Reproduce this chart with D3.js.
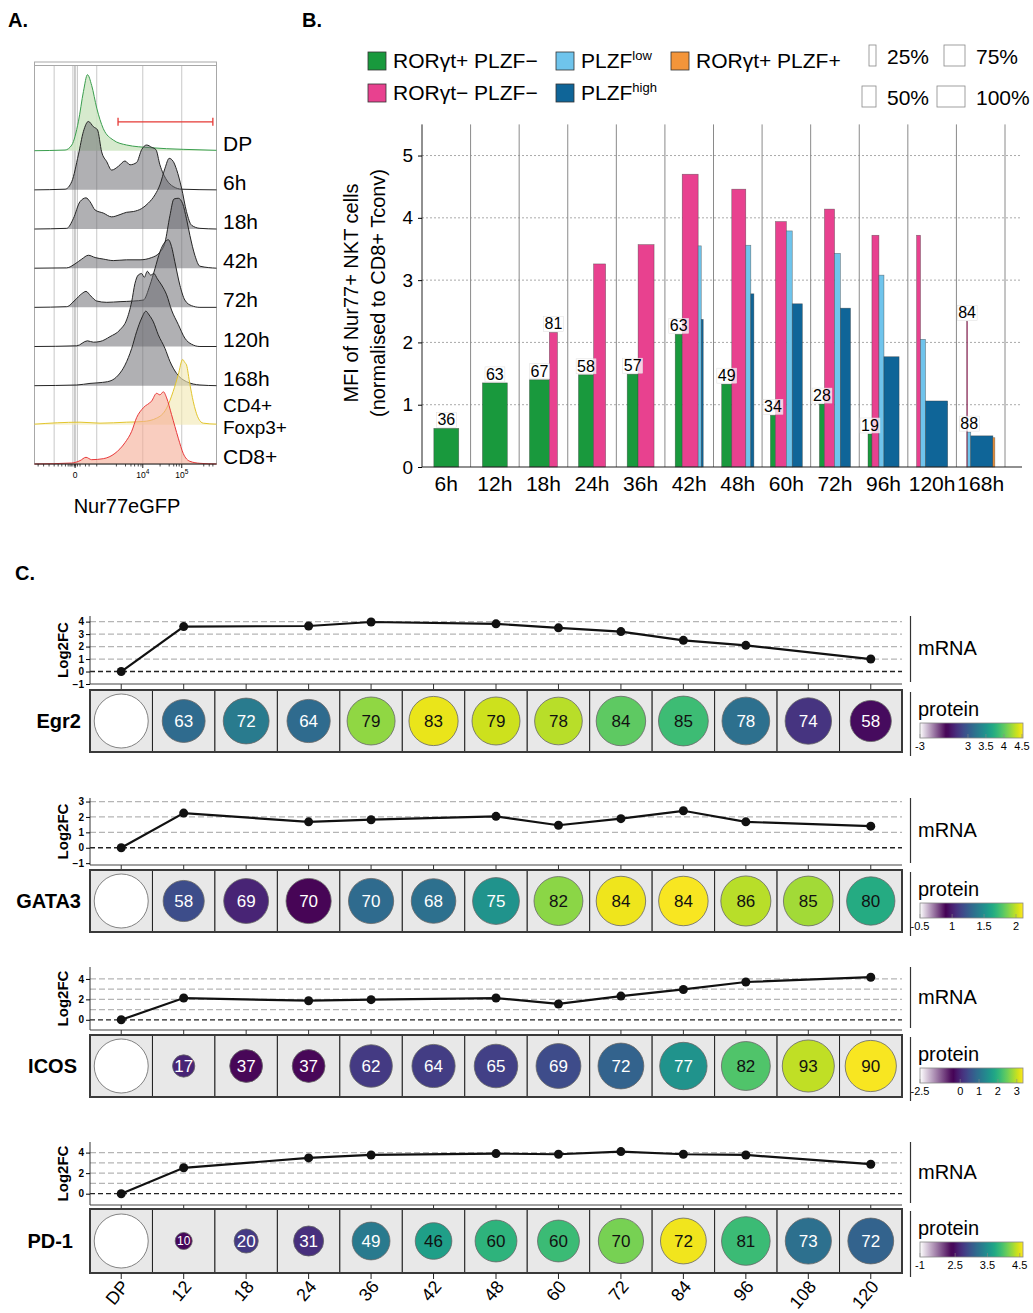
<!DOCTYPE html>
<html>
<head>
<meta charset="utf-8">
<script src="https://cdn.jsdelivr.net/npm/d3@7"></script>
<style>
  body { margin: 0; background: #fff; }
  svg { font-family: Arial, "Liberation Sans", Helvetica, sans-serif; }
</style>
</head>
<body>
<svg id="fig" width="1033" height="1313"></svg>
<script>
// ---------- panel A: Nur77eGFP histograms (channel 0-100, % of mode) ----------
const histRows = ["DP", "6h", "18h", "42h", "72h", "120h", "168h", "CD4+ Foxp3+", "CD8+"];
const histDP = [[0,0],[16.8,0.9],[20.5,7.5],[24.1,38],[26.9,78],[29.1,100],[31.4,86],[34.2,56],[37.8,29],[43.3,14],[50.6,7.5],[63.4,4],[81.7,1.8],[100,0.5]];
const hist6h = [[0,0],[16.8,0.9],[20.5,11],[24.1,46],[26.9,77],[29.6,90],[32.4,83],[34.6,79],[36.9,50],[39.7,37],[42.4,26],[46.1,31],[49.7,38],[52.5,33],[56.1,36],[58.9,53],[61.6,59],[64.4,56],[66.7,53],[68.9,33],[72.6,13],[76.2,4.4],[80.8,0.9],[100,0]];
const hist18h = [[0,0],[17.7,0.9],[21.4,14],[25,36],[28.3,41],[30.5,36],[33.3,25],[37.8,21],[42.4,16],[47,19],[50.6,22],[54.3,23],[58.9,27],[62.5,34],[66.2,45],[68.9,58],[71.7,80],[74,93],[76.2,89],[78.1,78],[80.8,54],[83.5,23],[86.3,5],[90.9,0.9],[100,0]];
const hist42h = [[0,0],[17.7,0.4],[22.3,5.7],[26,12],[29.6,17],[33.3,14],[37.8,12],[43.3,10],[50.6,11],[58,11],[64.4,14],[68.9,21],[71.7,34],[74.4,69],[76.6,91],[79,92],[81.4,85],[83.5,65],[85.4,43],[88.1,17],[90.9,2.6],[100,0]];
const hist72h = [[0,0],[17.7,0.9],[22.3,9.6],[26,18],[28.3,21],[30.9,15],[34.2,8.3],[39.7,6.6],[47,7.5],[54.3,8.3],[59.8,9.6],[63.4,29],[66.2,51],[68.9,73],[71.7,86],[73.5,89],[75.3,80],[77.1,60],[79.9,29],[82.6,9.6],[86.3,2.2],[90.9,0],[100,0]];
const hist120h = [[0,0],[23.2,0.9],[29.1,7.5],[32.4,5.7],[36,6.6],[41.5,13],[47,22],[50.6,35],[53.4,59],[55.2,83],[57,94],[58.9,96],[60.3,91],[62,99],[63.8,94],[65.6,96],[67.5,89],[69.8,81],[72.6,68],[75.3,48],[79,29],[82.6,11],[86.3,3],[90.9,0],[100,0]];
const hist168h = [[0,0],[23.2,0.9],[30.5,3],[36,4],[41.5,6.1],[46.1,14],[49.7,27],[53.4,49],[56.1,71],[58.9,89],[61.2,98],[63,93],[65.3,84],[68,67],[71.7,49],[74.4,32],[78.1,16],[83.5,5.3],[90.9,0.9],[100,0]];
const histCD4 = [[0,0.9],[25,3.5],[36,2.2],[50.6,3.5],[59.8,4.4],[67.1,8.8],[72.6,22],[76.2,44],[79,66],[81.4,86],[82.6,82],[83.5,79],[85.4,53],[87.2,31],[90,8.8],[92.7,2.2],[100,0.9]];
const histCD8 = [[0,0],[20.5,1.3],[25,4.4],[28.3,8.8],[31.4,5.7],[37.8,7],[44.2,14],[49.7,28],[53.4,43],[56.1,61],[59.8,74],[64.4,83],[67.1,93],[68.9,91],[70.8,95],[72.6,87],[75.3,65],[79,34],[81.7,14],[85.4,3.5],[90.9,0.9],[100,0]];
const histGrid = [10.8, 21.1, 22.0, 22.6, 23.6, 34.2, 59.5, 80.9];
const histMajor = [22.3, 59.5, 80.9];
const histMajorLab = [["0", ""], ["10", "4"], ["10", "5"]];
const histMinor = [2, 5, 8, 10.8, 13, 15, 17, 18.5, 19.5, 20.2, 21.1, 22, 22.6, 23.6, 25, 28, 30, 34.2, 45, 50, 53, 55, 57, 58.5, 69, 74, 76.5, 78, 79.5, 93, 96, 98];
const gateRange = [45.9, 98];
const gateLevel = 38;

// ---------- panel B: MFI bars ----------
const timepoints = ["6h","12h","18h","24h","36h","42h","48h","60h","72h","96h","120h","168h"];
const subsets = ["RORγt+ PLZF−", "RORγt− PLZF−", "PLZFlow", "PLZFhigh", "RORγt+ PLZF+"];
const mfiGreen  = [0.62,1.35,1.40,1.48,1.49,2.13,1.33,0.83,1.01,0.53,null,null];
const mfiPink   = [null,null,2.16,3.26,3.57,4.70,4.46,3.94,4.14,3.72,3.72,2.34];
const mfiLow    = [null,null,null,null,null,3.55,3.56,3.79,3.43,3.08,2.05,0.56];
const mfiHigh   = [null,null,null,null,null,2.37,2.78,2.62,2.55,1.77,1.06,0.50];
const mfiOrange = [null,null,null,null,null,null,null,null,null,null,null,0.47];
const freqGreen  = [89,89,71,54,39,25,36,18,18,14,null,null];
const freqPink   = [null,null,29,43,57,57,50,39,36,25,14,4];
const freqLow    = [null,null,null,null,null,11,18,21,21,18,18,11];
const freqHigh   = [null,null,null,null,null,7,11,36,36,54,79,79];
const freqOrange = [null,null,null,null,null,null,null,null,null,null,null,7];
const labGreen = [36,63,67,58,57,63,49,34,28,19,null,null];
const labPink  = [null,null,81,null,null,null,null,null,null,null,null,84];
const labLow   = [null,null,null,null,null,null,null,null,null,null,null,88];
const freqLegend = [25, 50, 75, 100];
const mfiTicks = [0, 1, 2, 3, 4, 5];

// ---------- panel C: mRNA log2FC and protein ----------
const hours = ["DP","12","18","24","36","42","48","60","72","84","96","108","120"];
const genes = ["Egr2", "GATA3", "ICOS", "PD-1"];
const egr2Mrna  = [0,3.6,null,3.65,3.97,null,3.82,3.5,3.2,2.5,2.1,null,1.0];
const gata3Mrna = [0,2.25,null,1.68,1.82,null,2.04,1.46,1.89,2.4,1.68,null,1.4];
const icosMrna  = [0,2.13,null,1.87,1.97,null,2.13,1.55,2.32,2.97,3.7,null,4.17];
const pd1Mrna   = [0,2.52,null,3.48,3.77,null,3.9,3.84,4.1,3.84,3.77,null,2.87];
const egr2Pct  = [100,63,72,64,79,83,79,78,84,85,78,74,58];
const gata3Pct = [100,58,69,70,70,68,75,82,84,84,86,85,80];
const icosPct  = [100,17,37,37,62,64,65,69,72,77,82,93,90];
const pd1Pct   = [100,10,20,31,49,46,60,60,70,72,81,73,72];
const egr2Prot  = [null,3.14,3.28,3.14,4.18,4.46,4.37,4.3,4.0,3.86,3.18,2.72,2.46];
const gata3Prot = [null,1.18,1.02,0.88,1.32,1.34,1.52,1.9,2.08,2.1,1.98,1.94,1.64];
const icosProt  = [null,-0.03,-0.45,-0.45,0.23,0.27,0.3,0.45,0.78,1.52,2.3,2.98,3.3];
const pd1Prot   = [null,2.44,2.77,2.7,3.3,3.63,3.82,3.9,4.15,4.55,3.9,3.2,3.09];
const egr2Bar  = { min: -3,   mid: 2.4,  max: 4.53, ticks: [-3, 3, 3.5, 4, 4.5] };
const gata3Bar = { min: -0.5, mid: 0.9,  max: 2.11, ticks: [-0.5, 1, 1.5, 2] };
const icosBar  = { min: -2.5, mid: -0.4, max: 3.33, ticks: [-2.5, 0, 1, 2, 3] };
const pd1Bar   = { min: -1,   mid: 2.4,  max: 4.6,  ticks: [-1, 2.5, 3.5, 4.5] };

const svg = d3.select("#fig");

// panel letters
[["A.", 8, 27], ["B.", 302, 27], ["C.", 15, 580]].forEach(([t, x, y]) => {
  svg.append("text").attr("x", x).attr("y", y).attr("font-size", 20).attr("font-weight", "bold").text(t);
});

// ======================= PANEL A =======================
(function () {
  const g = svg.append("g");
  const hx = d3.scaleLinear().domain([0, 100]).range([34.5, 216.5]);
  const rowY = d3.scalePoint().domain(histRows).range([150.7, 464]);
  const hh = d3.scaleLinear().domain([0, 100]).range([0, 76]);
  const histData = [histDP, hist6h, hist18h, hist42h, hist72h, hist120h, hist168h, histCD4, histCD8];
  const grey = { fill: "#68676d", op: 0.52, stroke: "#262626" };
  const styles = [
    { fill: "#cfe6c4", op: 0.85, stroke: "#3a9e4e" },
    grey, grey, grey, grey, grey, grey,
    { fill: "#f2e7b0", op: 0.6, stroke: "#e2c52c" },
    { fill: "#f5ab95", op: 0.6, stroke: "#e8393b" }
  ];

  g.append("rect").attr("x", 34.5).attr("y", 62).attr("width", 182).attr("height", 402)
    .attr("fill", "#fff").attr("stroke", "#a8a8a8");
  g.append("line").attr("x1", 34.5).attr("x2", 216.5).attr("y1", 65.5).attr("y2", 65.5).attr("stroke", "#a8a8a8");

  g.selectAll(".grid").data(histGrid).enter().append("line")
    .attr("x1", d => hx(d)).attr("x2", d => hx(d)).attr("y1", 66).attr("y2", 464)
    .attr("stroke", "#c8c8c8").attr("stroke-width", 1);

  histRows.forEach((r, i) => {
    const base = rowY(r);
    const st = styles[i];
    const area = d3.area().x(d => hx(d[0])).y0(base).y1(d => base - hh(d[1])).curve(d3.curveMonotoneX);
    const line = d3.line().x(d => hx(d[0])).y(d => base - hh(d[1])).curve(d3.curveMonotoneX);
    g.append("path").datum(histData[i]).attr("d", area).attr("fill", st.fill).attr("fill-opacity", st.op);
    g.append("path").datum(histData[i]).attr("d", line).attr("fill", "none")
      .attr("stroke", st.stroke).attr("stroke-width", 1);
    const parts = r.split(" ");
    parts.forEach((p, j) => {
      const dy = parts.length > 1 ? (j === 0 ? -13 : 9) : 0;
      g.append("text").attr("x", 223).attr("y", base + dy).attr("font-size", parts.length > 1 ? 19 : 21).text(p);
    });
  });

  // gate
  const gy = rowY("DP") - hh(gateLevel);
  g.append("line").attr("x1", hx(gateRange[0])).attr("x2", hx(gateRange[1])).attr("y1", gy).attr("y2", gy)
    .attr("stroke", "#e53935").attr("stroke-width", 1.3);
  gateRange.forEach(c => g.append("line").attr("x1", hx(c)).attr("x2", hx(c)).attr("y1", gy - 4).attr("y2", gy + 4)
    .attr("stroke", "#e53935").attr("stroke-width", 1.3));

  // axis
  g.append("line").attr("x1", 34.5).attr("x2", 216.5).attr("y1", 464).attr("y2", 464).attr("stroke", "#222");
  g.selectAll(".mn").data(histMinor).enter().append("line")
    .attr("x1", d => hx(d)).attr("x2", d => hx(d)).attr("y1", 464).attr("y2", 466.5).attr("stroke", "#222").attr("stroke-width", 0.8);
  histMajor.forEach((c, i) => {
    g.append("line").attr("x1", hx(c)).attr("x2", hx(c)).attr("y1", 464).attr("y2", 468).attr("stroke", "#222");
    const t = g.append("text").attr("x", hx(c)).attr("y", 478).attr("text-anchor", "middle").attr("font-size", 8.5);
    t.append("tspan").text(histMajorLab[i][0]);
    if (histMajorLab[i][1]) t.append("tspan").attr("dy", -4).attr("font-size", 6.5).text(histMajorLab[i][1]);
  });
  g.append("text").attr("x", 127).attr("y", 513).attr("text-anchor", "middle").attr("font-size", 20).text("Nur77eGFP");
})();

// ======================= PANEL B =======================
(function () {
  const g = svg.append("g");
  const xB = d3.scaleBand().domain(timepoints).range([422, 1005]);
  const yB = d3.scaleLinear().domain([0, 5.5]).range([467, 124.4]);
  const wScale = d3.scaleLinear().domain([0, 100]).range([0, 28]);
  const colors = ["#19993d", "#e8418f", "#6fc4ec", "#0f6598", "#f3953a"];
  const vals = [mfiGreen, mfiPink, mfiLow, mfiHigh, mfiOrange];
  const freqs = [freqGreen, freqPink, freqLow, freqHigh, freqOrange];
  const labs = [labGreen, labPink, labLow, null, null];

  // grid
  g.selectAll(".hg").data(mfiTicks.filter(d => d > 0)).enter().append("line")
    .attr("x1", 422).attr("x2", 1022).attr("y1", d => yB(d)).attr("y2", d => yB(d))
    .attr("stroke", "#aaa").attr("stroke-dasharray", "2,2").attr("stroke-width", 1);
  g.selectAll(".vg").data(timepoints).enter().append("line")
    .attr("x1", d => xB(d) + xB.bandwidth()).attr("x2", d => xB(d) + xB.bandwidth())
    .attr("y1", yB(5.5)).attr("y2", yB(0)).attr("stroke", "#8a8a8a").attr("stroke-width", 1);

  const labelItems = [];
  timepoints.forEach((t, i) => {
    const items = [];
    subsets.forEach((s, k) => {
      if (vals[k][i] != null) items.push({ k, v: vals[k][i], w: wScale(freqs[k][i]), lab: labs[k] ? labs[k][i] : null });
    });
    const total = d3.sum(items, d => d.w);
    let x0 = xB(t) + xB.bandwidth() / 2 - total / 2;
    items.forEach(d => {
      d.x = x0; x0 += d.w;
      g.append("rect").attr("x", d.x).attr("y", yB(d.v)).attr("width", d.w).attr("height", yB(0) - yB(d.v))
        .attr("fill", colors[d.k]).attr("stroke", "#3a3a3a").attr("stroke-opacity", 0.6).attr("stroke-width", 0.6);
      if (d.lab != null) labelItems.push(d);
    });
  });
  labelItems.forEach(d => {
    const cx = d.x + d.w / 2, by = yB(d.v) - 3;
    const t = g.append("text").attr("x", cx).attr("y", by).attr("text-anchor", "middle").attr("font-size", 16).text(d.lab);
    const bb = t.node().getBBox();
    g.insert("rect", () => t.node()).attr("x", bb.x - 1).attr("y", bb.y + 1).attr("width", bb.width + 2).attr("height", bb.height - 2)
      .attr("fill", "#fff").attr("fill-opacity", 0.75).attr("stroke", "#ddd").attr("stroke-width", 0.5);
  });

  // axes
  const ay = g.append("g").attr("transform", "translate(422,0)")
    .call(d3.axisLeft(yB).tickValues(mfiTicks).tickSize(4).tickFormat(d3.format("d")));
  ay.select(".domain").attr("d", `M0,${yB(5.5)}V${yB(0)}`).attr("stroke", "#222");
  ay.selectAll("text").attr("font-size", 19).attr("font-family", null).attr("dx", -2);
  g.append("line").attr("x1", 422).attr("x2", 1022).attr("y1", yB(0)).attr("y2", yB(0)).attr("stroke", "#222").attr("stroke-width", 1.2);
  g.selectAll(".xl").data(timepoints).enter().append("text")
    .attr("x", d => xB(d) + xB.bandwidth() / 2).attr("y", 491).attr("text-anchor", "middle").attr("font-size", 21).text(d => d);

  const yl = g.append("g").attr("transform", "translate(366,293) rotate(-90)");
  yl.append("text").attr("x", 0).attr("y", -8).attr("text-anchor", "middle").attr("font-size", 20).text("MFI of Nur77+ NKT cells");
  yl.append("text").attr("x", 0).attr("y", 19).attr("text-anchor", "middle").attr("font-size", 20).text("(normalised to CD8+ Tconv)");

  // legend
  const legPos = [[368, 52], [368, 84], [556, 52], [556, 84], [671, 52]];
  subsets.forEach((s, k) => {
    const [lx, ly] = legPos[k];
    g.append("rect").attr("x", lx).attr("y", ly).attr("width", 18).attr("height", 18)
      .attr("fill", colors[k]).attr("stroke", "#333").attr("stroke-width", 0.8);
    const t = g.append("text").attr("x", lx + 25).attr("y", ly + 16).attr("font-size", 21);
    if (s.startsWith("PLZF") && !s.includes(" ")) {
      t.append("tspan").text("PLZF");
      t.append("tspan").attr("dy", -8).attr("font-size", 13).text(s.slice(4));
    } else t.text(s);
  });
  const boxRight = [876, 876, 965, 965];
  const boxTop = [45, 86, 45, 86];
  freqLegend.forEach((p, i) => {
    const w = wScale(p);
    g.append("rect").attr("x", boxRight[i] - w).attr("y", boxTop[i]).attr("width", w).attr("height", 21)
      .attr("fill", "#fff").attr("stroke", "#888").attr("stroke-width", 0.8);
    g.append("text").attr("x", boxRight[i] + 11).attr("y", boxTop[i] + 19).attr("font-size", 21).text(p + "%");
  });
})();

// ======================= PANEL C =======================
(function () {
  const g = svg.append("g");
  const xC = d3.scaleBand().domain(hours).range([90, 902]);
  const cx = h => xC(h) + xC.bandwidth() / 2;
  const rScale = d3.scaleSqrt().domain([0, 100]).range([0, 27]);
  const layout = [
    { top: 616, axis: 684, boxTop: 690, boxBot: 752, dom: [-1, 4.45], ticks: [-1, 0, 1, 2, 3, 4], grid: [1, 2, 3, 4], labX: 81 },
    { top: 798, axis: 865, boxTop: 870, boxBot: 932, dom: [-1.12, 3.23], ticks: [-1, 0, 1, 2, 3], grid: [1, 2, 3], labX: 81 },
    { top: 967, axis: 1030, boxTop: 1035, boxBot: 1097, dom: [-1, 5.17], ticks: [0, 2, 4], grid: [1, 2, 3, 4], labX: 77 },
    { top: 1142, axis: 1205, boxTop: 1209, boxBot: 1273, dom: [-1.1, 5.03], ticks: [0, 2, 4], grid: [1, 2, 3, 4], labX: 73 }
  ];
  const mrna = [egr2Mrna, gata3Mrna, icosMrna, pd1Mrna];
  const pct = [egr2Pct, gata3Pct, icosPct, pd1Pct];
  const prot = [egr2Prot, gata3Prot, icosProt, pd1Prot];
  const bars = [egr2Bar, gata3Bar, icosBar, pd1Bar];

  genes.forEach((gene, gi) => {
    const L = layout[gi], cb = bars[gi];
    const y = d3.scaleLinear().domain(L.dom).range([L.axis, L.top]);

    // grid
    g.selectAll(null).data(L.grid).enter().append("line")
      .attr("x1", 90).attr("x2", 902).attr("y1", d => y(d)).attr("y2", d => y(d))
      .attr("stroke", "#b5b5b5").attr("stroke-width", 1.3).attr("stroke-dasharray", "6,3");
    g.append("line").attr("x1", 90).attr("x2", 902).attr("y1", y(0)).attr("y2", y(0))
      .attr("stroke", "#222").attr("stroke-width", 1.3).attr("stroke-dasharray", "5,3");

    // y axis
    const ay = g.append("g").attr("transform", "translate(90,0)")
      .call(d3.axisLeft(y).tickValues(L.ticks).tickSize(4).tickFormat(d3.format("d")));
    ay.select(".domain").attr("d", `M0,${L.top}V${L.axis}`).attr("stroke", "#333");
    ay.selectAll("text").attr("font-size", 10).attr("font-weight", "bold").attr("font-family", null).attr("dx", 1);
    g.append("text").attr("transform", `translate(68,${(L.top + L.axis) / 2}) rotate(-90)`)
      .attr("text-anchor", "middle").attr("font-size", 15).attr("font-weight", "bold").text("Log2FC");
    g.append("line").attr("x1", 90).attr("x2", 902).attr("y1", L.axis).attr("y2", L.axis).attr("stroke", "#444").attr("stroke-width", 1.2);
    g.selectAll(null).data(hours).enter().append("line")
      .attr("x1", d => cx(d)).attr("x2", d => cx(d)).attr("y1", L.axis).attr("y2", L.boxTop)
      .attr("stroke", "#333").attr("stroke-width", 1);

    // mRNA line
    const pts = hours.map((h, i) => ({ h, v: mrna[gi][i] })).filter(d => d.v != null);
    g.append("path").datum(pts).attr("d", d3.line().x(d => cx(d.h)).y(d => y(d.v)))
      .attr("fill", "none").attr("stroke", "#111").attr("stroke-width", 2.2);
    g.selectAll(null).data(pts).enter().append("circle")
      .attr("cx", d => cx(d.h)).attr("cy", d => y(d.v)).attr("r", 4.5).attr("fill", "#111");

    // protein cells
    const colorPos = d3.scaleLinear().domain([cb.min, cb.mid, cb.max]);
    const tOf = v => (v - cb.mid) / (cb.max - cb.mid);
    const color = v => v <= cb.mid
      ? d3.interpolateRgb("#ffffff", "#440154")((v - cb.min) / (cb.mid - cb.min))
      : d3.interpolateViridis(Math.min(1, tOf(v)));
    g.selectAll(null).data(hours).enter().append("rect")
      .attr("x", d => xC(d)).attr("y", L.boxTop).attr("width", xC.bandwidth()).attr("height", L.boxBot - L.boxTop)
      .attr("fill", "#e8e8e8").attr("stroke", "#222").attr("stroke-width", 1);
    g.append("rect").attr("x", 90).attr("y", L.boxTop).attr("width", 812).attr("height", L.boxBot - L.boxTop)
      .attr("fill", "none").attr("stroke", "#3a3a3a").attr("stroke-width", 2);
    const midY = (L.boxTop + L.boxBot) / 2;
    hours.forEach((h, i) => {
      const v = prot[gi][i];
      g.append("circle").attr("cx", cx(h)).attr("cy", midY).attr("r", rScale(pct[gi][i]))
        .attr("fill", v == null ? "#fff" : color(v)).attr("stroke", "#666").attr("stroke-width", 0.8);
      if (v != null) {
        g.append("text").attr("x", cx(h)).attr("y", midY).attr("dy", "0.36em").attr("text-anchor", "middle")
          .attr("font-size", pct[gi][i] < 15 ? 12 : 17).attr("fill", tOf(v) < 0.55 ? "#fff" : "#111").text(pct[gi][i]);
      }
    });
    g.append("text").attr("x", L.labX).attr("y", midY + 7).attr("text-anchor", "end")
      .attr("font-size", 20).attr("font-weight", "bold").text(gene);

    // right side labels
    g.append("line").attr("x1", 910.5).attr("x2", 910.5).attr("y1", L.top).attr("y2", L.axis - 2).attr("stroke", "#333").attr("stroke-width", 1.2);
    g.append("line").attr("x1", 910.5).attr("x2", 910.5).attr("y1", L.boxTop + 2).attr("y2", L.boxBot + 4).attr("stroke", "#333").attr("stroke-width", 1.2);
    g.append("text").attr("x", 918).attr("y", (L.top + L.axis) / 2 + 5).attr("font-size", 20).text("mRNA");
    g.append("text").attr("x", 918).attr("y", L.boxTop + 26).attr("font-size", 20).text("protein");

    // colour bar
    const bx0 = 920, bw = 103, by = L.boxTop + 33, bh = 15;
    const p = { "Egr2": 0.256, "GATA3": 0.25, "ICOS": 0.317, "PD-1": 0.31 }[gene];
    colorPos.range([bx0, bx0 + p * bw, bx0 + bw]);
    const gid = "cbar" + gi;
    const grad = svg.append("defs").append("linearGradient").attr("id", gid);
    d3.range(0, 1.0001, 0.025).forEach(f => {
      grad.append("stop").attr("offset", f).attr("stop-color", color(colorPos.invert(bx0 + f * bw)));
    });
    g.append("rect").attr("x", bx0).attr("y", by).attr("width", bw).attr("height", bh)
      .attr("fill", `url(#${gid})`).attr("stroke", "#888").attr("stroke-width", 0.8);
    cb.ticks.forEach(v => {
      g.append("line").attr("x1", colorPos(v)).attr("x2", colorPos(v)).attr("y1", by + bh - 4).attr("y2", by + bh)
        .attr("stroke", "#888").attr("stroke-width", 0.6);
      g.append("text").attr("x", colorPos(v)).attr("y", by + bh + 12).attr("text-anchor", "middle")
        .attr("font-size", 11).text(v);
    });
  });

  // x labels under last row
  const last = layout[layout.length - 1];
  g.selectAll(null).data(hours).enter().append("line")
    .attr("x1", d => cx(d)).attr("x2", d => cx(d)).attr("y1", last.boxBot).attr("y2", last.boxBot + 6)
    .attr("stroke", "#222");
  g.selectAll(null).data(hours).enter().append("text")
    .attr("transform", d => `translate(${cx(d) + 4},${last.boxBot + 10}) rotate(-50)`)
    .attr("text-anchor", "end").attr("dy", "0.35em").attr("font-size", 18).text(d => d);
})();
</script>
</body>
</html>
